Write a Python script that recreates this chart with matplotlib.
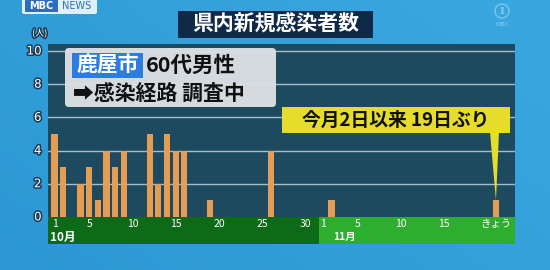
import numpy as np
import matplotlib.pyplot as plt
import matplotlib.patheffects as pe
from matplotlib.patches import FancyBboxPatch, Rectangle, Polygon, Circle

plt.rcParams['font.family'] = ['Noto Sans CJK JP', 'DejaVu Sans']

# daily new cases, Oct 1-31 and Nov 1-21 (today)
oct_counts = [5, 3, 0, 2, 3, 1, 4, 3, 4, 0, 0, 5, 2, 5, 4, 4, 0, 0, 1, 0,
              0, 0, 0, 0, 0, 4, 0, 0, 0, 0, 0]
nov_counts = [0, 1, 0, 0, 0, 0, 0, 0, 0, 0, 0, 0, 0, 0, 0, 0, 0, 0, 0, 0, 1]
oct_ticks = [1, 5, 10, 15, 20, 25, 30]
nov_ticks = [1, 5, 10, 15]
today_label = "きょう"
y_ticks = [0, 2, 4, 6, 8, 10]

W, H = 550, 270
fig = plt.figure(figsize=(W / 100, H / 100), dpi=100)

# blue studio background
bg = fig.add_axes([0, 0, 1, 1])
gx, gy = np.meshgrid(np.linspace(0, 1, 200), np.linspace(0, 1, 100))
grad = 0.6 * gx + 0.4 * gy
c0 = np.array([0x2c, 0x97, 0xd4]) / 255
c1 = np.array([0x3a, 0xa8, 0xe0]) / 255
img = c0[None, None, :] + (c1 - c0)[None, None, :] * grad[:, :, None]
bg.imshow(img, extent=[0, 1, 0, 1], aspect='auto', origin='lower')
bg.axis('off')

counts = oct_counts + nov_counts
x = np.arange(len(counts))
n_oct = len(oct_counts)

ax = fig.add_axes([48 / W, 1 - 244 / H, 467 / W, 200 / H])
ax.set_facecolor('#1e4a5f')
x_lo, x_hi = -0.75, 53.2
y_lo, y_hi = -1.63, 10.42
ax.set_xlim(x_lo, x_hi)
ax.set_ylim(y_lo, y_hi)
for s in ax.spines.values():
    s.set_visible(False)
ax.set_xticks([])
ax.set_yticks([])

# month band
ax.add_patch(Rectangle((x_lo, y_lo), n_oct - 0.5 - x_lo, -y_lo,
                       fc='#0d6b18', ec='none', zorder=1))
ax.add_patch(Rectangle((n_oct - 0.5, y_lo), x_hi - (n_oct - 0.5), -y_lo,
                       fc='#2eae2e', ec='none', zorder=1))

for v in y_ticks[1:]:
    ax.axhline(v, color='#a3bfcc', lw=1.0, zorder=2)

ax.bar(x, counts, width=0.72, color='#e49d52', zorder=3)

stroke = [pe.withStroke(linewidth=2.2, foreground='#1b3b52')]
for v in y_ticks:
    ax.text(-0.014, v, str(v), transform=ax.get_yaxis_transform(),
            ha='right', va='center', fontsize=8.5, color='white',
            path_effects=stroke, family=['DejaVu Sans'])
ax.text(-0.018, 1.03, "(人)", transform=ax.transAxes, ha='center', va='bottom',
        fontsize=6.5, color='white', path_effects=stroke)

for d in oct_ticks:
    ax.text(d - 1, -0.42, str(d), ha='center', va='center', fontsize=7.5,
            color='white', zorder=4)
for d in nov_ticks:
    ax.text(n_oct + d - 1, -0.42, str(d), ha='center', va='center',
            fontsize=7.5, color='white', zorder=4)
ax.text(len(counts) - 1, -0.42, today_label, ha='center', va='center',
        fontsize=7.5, color='white', zorder=4)
ax.text(-0.55, -1.22, "10月", ha='left', va='center', fontsize=8.5,
        color='white', weight='bold', zorder=4)
ax.text(n_oct + 2.5, -1.22, "11月", ha='center', va='center', fontsize=7.5,
        color='white', weight='bold', zorder=4)

# overlay in pixel coordinates for captions
ov = fig.add_axes([0, 0, 1, 1])
ov.set_xlim(0, W)
ov.set_ylim(H, 0)
ov.axis('off')
ov.patch.set_alpha(0)

ov.add_patch(Rectangle((178, 11), 195, 27, fc='#0e2a48', ec='none'))
ov.text(275.5, 24.5, "県内新規感染者数", ha='center', va='center',
        fontsize=15, color='white', weight='bold')

ov.add_patch(FancyBboxPatch((65, 48), 211, 59,
                            boxstyle='round,pad=0,rounding_size=4',
                            fc='#dde1e4', ec='none', alpha=0.96))
ov.add_patch(Rectangle((72, 53), 71, 25, fc='#2b7de0', ec='none'))
ov.text(107.5, 65.5, "鹿屋市", ha='center', va='center', fontsize=15,
        color='white', weight='bold')
ov.text(146, 65.5, "60代男性", ha='left', va='center', fontsize=15.5,
        color='#111111', weight='bold')
ov.text(73, 93, "➡感染経路 調査中", ha='left', va='center', fontsize=15,
        color='#111111', weight='bold')

# yellow callout pointing at today's bar
tip = ov.transData.inverted().transform(
    ax.transData.transform((len(counts) - 1, counts[-1])))
ov.add_patch(Polygon([(490, 132), (499, 132), tuple(tip)],
                     closed=True, fc='#e6dc2c', ec='none'))
ov.add_patch(Rectangle((282, 107), 228, 26, fc='#e6dc2c', ec='none'))
ov.text(396, 120, "今月2日以来 19日ぶり", ha='center', va='center',
        fontsize=13.5, color='#111111', weight='bold')

# channel logos
ov.add_patch(FancyBboxPatch((22, -3), 75, 17,
                            boxstyle='round,pad=0,rounding_size=2',
                            fc='white', ec='none', alpha=0.85))
ov.add_patch(Rectangle((25, 0), 33, 12, fc='#2a6fbf', ec='none'))
ov.text(41.5, 6, "MBC", ha='center', va='center', fontsize=7, color='white',
        weight='bold', family=['DejaVu Sans'])
ov.text(77, 6, "NEWS", ha='center', va='center', fontsize=7,
        color='#2a6fbf', family=['DejaVu Sans'])
ov.add_patch(Circle((502, 11), 7, fc='none', ec='white', lw=1, alpha=0.35))
ov.text(502, 11, "1", ha='center', va='center', fontsize=7, color='white',
        alpha=0.45, weight='bold', family=['DejaVu Serif'])
ov.text(502, 25, "MBC", ha='center', va='center', fontsize=4.5,
        color='white', alpha=0.4, family=['DejaVu Sans'])

fig.savefig('out.png', dpi=100)
